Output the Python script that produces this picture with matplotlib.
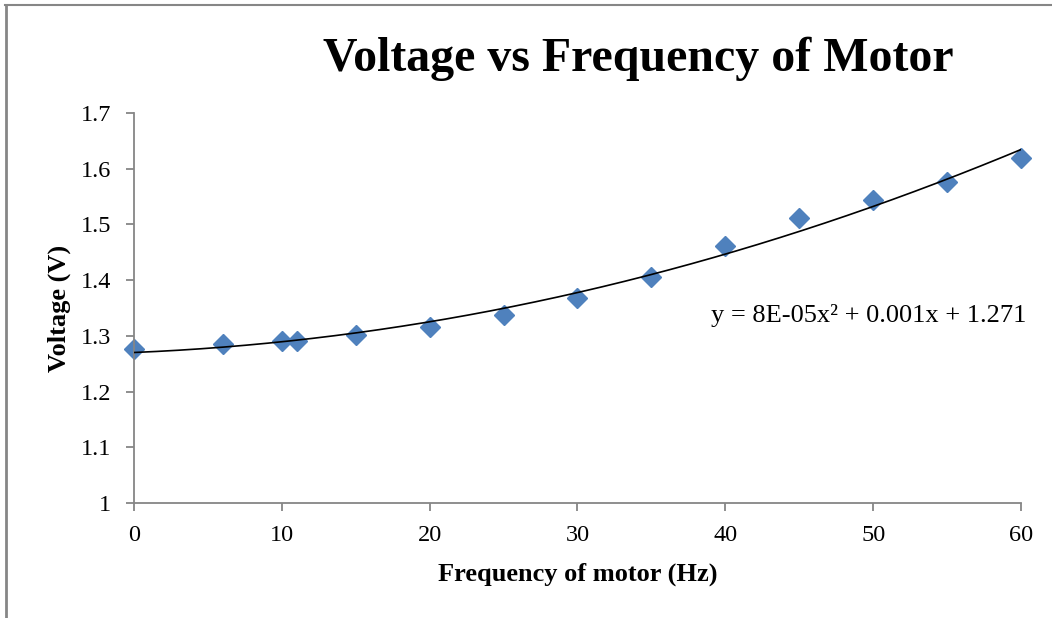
import matplotlib
matplotlib.use('Agg')
import matplotlib.pyplot as plt
from matplotlib.lines import Line2D
import numpy as np

plt.rcParams['font.family'] = ['Liberation Serif', 'DejaVu Serif']

# data
freq = [0, 6, 10, 11, 15, 20, 25, 30, 35, 40, 45, 50, 55, 60]
volt = [1.276, 1.285, 1.290, 1.291, 1.302, 1.316, 1.338, 1.368,
        1.405, 1.461, 1.511, 1.543, 1.576, 1.619]
xticks = [0, 10, 20, 30, 40, 50, 60]
yticks = [1, 1.1, 1.2, 1.3, 1.4, 1.5, 1.6, 1.7]

axis_col = '#868686'

fig = plt.figure(figsize=(10.52, 6.18), dpi=100)
ax = fig.add_axes([0.1274, 0.1861, 0.8431, 0.6311])

# quadratic trendline, like Excel's
coef = np.polyfit(freq, volt, 2)
xs = np.linspace(0, 60, 200)
ax.plot(xs, np.polyval(coef, xs), color='black', lw=1.2, zorder=3)
ax.plot(freq, volt, linestyle='none', marker='D', ms=10,
        color='#4F81BD', mec='#4F81BD', zorder=2, clip_on=False)

ax.set_xlim(0, 60)
ax.set_ylim(1, 1.7)
ax.set_xticks(xticks)
ax.set_yticks(yticks)
ax.set_yticklabels(['1'] + ['%.1f' % v for v in yticks[1:]])

for s in ['top', 'right']:
    ax.spines[s].set_visible(False)
for s in ['left', 'bottom']:
    ax.spines[s].set_color(axis_col)
    ax.spines[s].set_linewidth(1.3)
ax.tick_params(axis='both', direction='out', length=5.5, width=1.3,
               color=axis_col, labelsize=17.5, labelcolor='black')
ax.tick_params(axis='x', pad=10.5)
ax.tick_params(axis='y', pad=11)

ax.set_xlabel('Frequency of motor (Hz)', fontsize=19, fontweight='bold', labelpad=12)
ax.set_ylabel('Voltage (V)', fontsize=19, fontweight='bold', labelpad=7)

fig.text(0.607, 0.885, 'Voltage vs Frequency of Motor', fontsize=34.5,
         fontweight='bold', ha='center', va='baseline')
ax.text(1.0056, 0.482, 'y = 8E-05x² + 0.001x + 1.271', transform=ax.transAxes,
        fontsize=19, ha='right', va='center')

# chart border (top and left only visible in the crop)
fig.add_artist(Line2D([0.005, 1], [0.992, 0.992], transform=fig.transFigure,
                      color=axis_col, lw=1.5))
fig.add_artist(Line2D([0.0055, 0.0055], [0, 0.992], transform=fig.transFigure,
                      color=axis_col, lw=2))

fig.savefig('out.png', dpi=100)
